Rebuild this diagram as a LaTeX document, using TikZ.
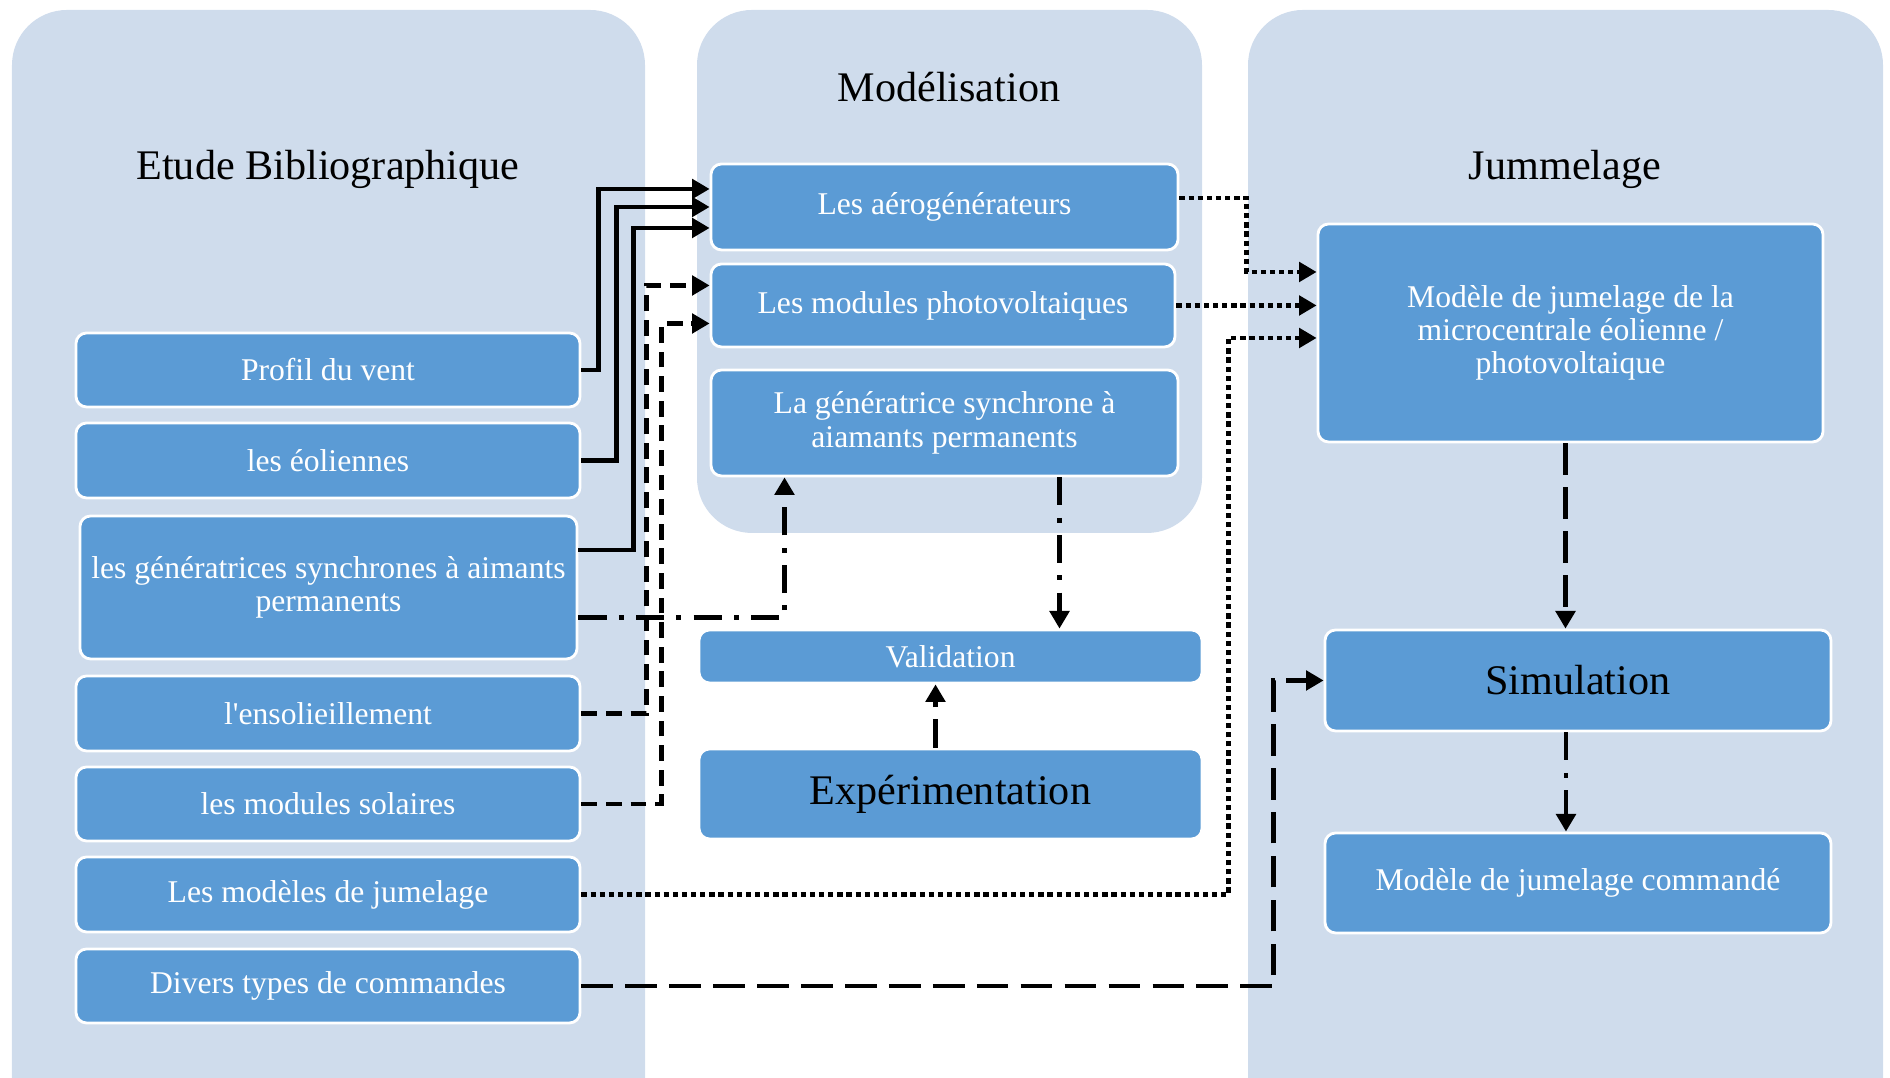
\documentclass[tikz,border=0pt]{standalone}
\usepackage{fontspec}
\setmainfont{Liberation Serif}
\usepackage{tikz}
\usetikzlibrary{arrows.meta}
\definecolor{panelblue}{RGB}{207,220,236}
\definecolor{boxblue}{RGB}{91,155,213}

\begin{document}
\begin{tikzpicture}[
  panel/.style={fill=panelblue, rounded corners=0.55cm},
  box/.style={draw=white, line width=0.8pt, fill=boxblue, rounded corners=3pt,
              text=white, font=\fontsize{9}{9.5}\selectfont, align=center, inner sep=1pt},
  bigbox/.style={box, text=black, font=\fontsize{12}{14}\selectfont},
  title/.style={font=\fontsize{12}{14}\selectfont},
  link/.style={-{Triangle[length=5pt,width=5.5pt]}, line width=1.4pt, black},
  dashlink/.style={link, dash pattern=on 4.5pt off 2.5pt},
  longdash/.style={link, dash pattern=on 9pt off 3.5pt},
  dotlink/.style={link, dash pattern=on 1.5pt off 1.1pt},
  dashdot/.style={link, dash pattern=on 8pt off 3.5pt on 1.4pt off 3.5pt}
]
\useasboundingbox (0,0) rectangle (18.9,10.78);
\clip (0,0) rectangle (18.9,10.78);

% colonnes
\fill[panel] (0.12,-1) rectangle (6.45,10.68);
\fill[panel] (6.97,5.45) rectangle (12.02,10.68);
\fill[panel] (12.48,-1) rectangle (18.83,10.68);

\node[title] (tbib) at (3.28,9.09)  {Etude Bibliographique};
\node[title] (tmod) at (9.49,9.91)  {Modélisation};
\node[title] (tjum) at (15.65,9.09) {Jummelage};

% etude bibliographique
\node[box, minimum width=5.04cm, minimum height=0.74cm] (profil) at (3.28,7.08)  {Profil du vent};
\node[box, minimum width=5.04cm, minimum height=0.75cm] (eol)    at (3.28,6.175) {les éoliennes};
\node[box, minimum width=4.97cm, minimum height=1.43cm] (gen)    at (3.285,4.905) {les génératrices synchrones à aimants\\permanents};
\node[box, minimum width=5.04cm, minimum height=0.75cm] (sol)    at (3.28,3.645) {l\textquotesingle ensolieillement};
\node[box, minimum width=5.04cm, minimum height=0.74cm] (modsol) at (3.28,2.74)  {les modules solaires};
\node[box, minimum width=5.04cm, minimum height=0.75cm] (modjum) at (3.28,1.835) {Les modèles de jumelage};
\node[box, minimum width=5.04cm, minimum height=0.74cm] (divers) at (3.28,0.92)  {Divers types de commandes};

% modelisation
\node[box, minimum width=4.67cm, minimum height=0.86cm] (aero)  at (9.445,8.71) {Les aérogénérateurs};
\node[box, minimum width=4.64cm, minimum height=0.83cm] (pv)    at (9.43,7.725) {Les modules photovoltaiques};
\node[box, minimum width=4.67cm, minimum height=1.06cm] (gsm)   at (9.445,6.55) {La génératrice synchrone à\\aiamants permanents};
\node[box, minimum width=5.03cm, minimum height=0.53cm] (valid) at (9.505,4.215) {Validation};
\node[bigbox, minimum width=5.03cm, minimum height=0.90cm] (exp) at (9.505,2.84) {Expérimentation};

% jumelage
\node[box, minimum width=5.05cm, minimum height=2.18cm] (jum)  at (15.705,7.45) {Modèle de jumelage de la\\microcentrale éolienne /\\photovoltaique};
\node[bigbox, minimum width=5.06cm, minimum height=1.01cm] (simu) at (15.78,3.975) {Simulation};
\node[box, minimum width=5.06cm, minimum height=1.0cm] (cmd)  at (15.78,1.95) {Modèle de jumelage commandé};

% liaisons
\draw[link] (profil.east) -- ++(0.17,0) |- ([yshift=0.18cm]aero.west);
\draw[link] (eol.east) -- ++(0.35,0) |- (aero.west);
\draw[link] ([yshift=0.375cm]gen.east) -- ++(0.55,0) |- ([yshift=-0.21cm]aero.west);

\draw[dashlink] (sol.east) -- ++(0.65,0) |- ([yshift=0.2cm]pv.west);
\draw[dashlink] (modsol.east) -- ++(0.8,0) |- ([yshift=-0.18cm]pv.west);

\draw[dashdot] ([yshift=-0.3cm]gen.east) -| ([xshift=-1.6cm]gsm.south);
\path ([xshift=1.15cm]gsm.south) coordinate (gv);
\draw[dashdot] (gv) -- (gv |- valid.north);
\draw[dashdot] ([xshift=-0.15cm]exp.north) -- ([xshift=-0.15cm]valid.south);

\draw[dotlink] ([yshift=0.09cm]aero.east) -- ++(0.67,0) |- ([yshift=0.61cm]jum.west);
\draw[dotlink] (pv.east) -- (pv.east -| jum.west);
\draw[dotlink] (modjum.east) -- ++(6.47,0) |- ([yshift=-0.05cm]jum.west);

\draw[longdash] (divers.east) -| ([xshift=-0.5cm]simu.west) -- (simu.west);
\draw[longdash] ([xshift=-0.05cm]jum.south) -- ([xshift=-0.05cm]jum.south |- simu.north);
\path ([xshift=-0.12cm]simu.south) coordinate (sc);
\draw[dashdot] (sc) -- (sc |- cmd.north);
\end{tikzpicture}
\end{document}
